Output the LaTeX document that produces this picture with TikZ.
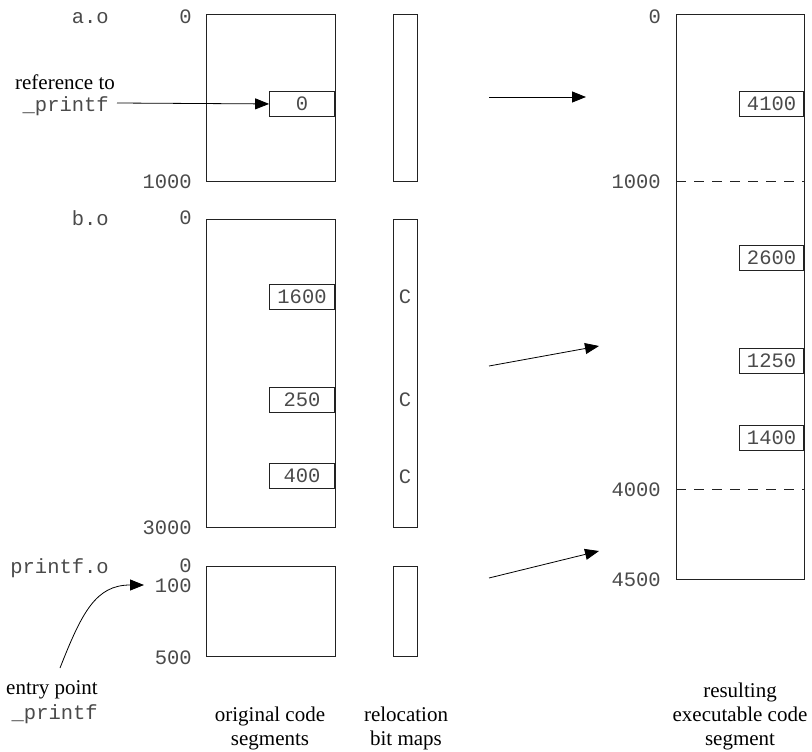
\documentclass[tikz,border=0pt]{standalone}
\usepackage{fontspec}
\setmainfont{Liberation Serif}
\setmonofont{Liberation Mono}
\usetikzlibrary{arrows.meta}
\definecolor{ink}{HTML}{222222}
\definecolor{monoink}{HTML}{4a4a4a}
\begin{document}
\begin{tikzpicture}[x=1pt,y=-1pt,
  seg/.style={draw=ink,line width=0.9pt,inner sep=0pt,anchor=north west},
  slot/.style={draw=ink,line width=0.9pt,inner sep=0pt,anchor=north east,
    minimum width=65pt,minimum height=25pt,font=\fontsize{20.5}{20.5}\selectfont\ttfamily,text=monoink},
  addr/.style={anchor=east,inner sep=0pt,font=\fontsize{20.5}{20.5}\selectfont\ttfamily,text=monoink},
  fname/.style={anchor=east,inner sep=0pt,font=\fontsize{20.5}{20.5}\selectfont\ttfamily,text=monoink},
  bit/.style={inner sep=0pt,font=\fontsize{20.5}{20.5}\selectfont\ttfamily,text=monoink},
  caption/.style={align=center,inner sep=0pt,font=\fontsize{21}{24}\selectfont},
  ptr/.style={draw=black,line width=0.8pt,-{Triangle[length=14pt,width=11pt]}},
  gap/.style={draw=ink,line width=0.9pt,dash pattern=on 10pt off 8pt}]
\useasboundingbox (0,0) rectangle (812,752);

% object file code segments
\node[seg,minimum width=129pt,minimum height=167pt] (ao) at (206,14) {};
\node[seg,minimum width=129pt,minimum height=308pt] (bo) at (206,219) {};
\node[seg,minimum width=129pt,minimum height=90pt] (po) at (206,566) {};

% relocation bit maps
\node[seg,minimum width=24pt,minimum height=167pt] (ar) at (393,14) {};
\node[seg,minimum width=24pt,minimum height=308pt] (br) at (393,219) {};
\node[seg,minimum width=24pt,minimum height=90pt] (pr) at (393,566) {};
\node[bit] (c1) at (405,297) {C};
\node[bit] (c2) at (405,400) {C};
\node[bit] (c3) at (405,477) {C};

% executable segment
\node[seg,minimum width=128pt,minimum height=565pt] (exe) at (676,14) {};
\coordinate (d1) at (676,181);
\coordinate (d2) at (676,489);
\draw[gap] (d1) -- (d1 -| exe.east);
\draw[gap] (d2) -- (d2 -| exe.east);

% relocated words
\node[slot] (sa) at (335,91) {0};
\node[slot] (sb1) at (335,284) {1600};
\node[slot] (sb2) at (335,387) {250};
\node[slot] (sb3) at (335,463) {400};
\node[slot,minimum width=64pt] (e1) at (804,91) {4100};
\node[slot,minimum width=64pt] (e2) at (804,245) {2600};
\node[slot,minimum width=64pt] (e3) at (804,348) {1250};
\node[slot,minimum width=64pt] (e4) at (804,425) {1400};

% addresses
\node[addr] (ya0) at (192,17) {0};
\node[addr] (ya1) at (192,182) {1000};
\node[addr] (yb0) at (192,218) {0};
\node[addr] (yb1) at (192,528) {3000};
\node[addr] (yp0) at (192,566) {0};
\node[addr] (yp1) at (192,586) {100};
\node[addr] (yp2) at (192,658) {500};
\node[addr] (ye0) at (661,17) {0};
\node[addr] (ye1) at (661,182) {1000};
\node[addr] (ye2) at (661,490) {4000};
\node[addr] (ye3) at (661,580) {4500};

% file names
\node[fname] (na) at (109,18) {a.o};
\node[fname] (nb) at (109,218) {b.o};
\node[fname] (np) at (109,568) {printf.o};

% annotations
\node[caption] (refto) at (65,82) {reference to};
\node[fname] (refpf) at (109,106) {\_printf};
\coordinate (refstart) at (117,103);
\draw[ptr] (refstart) -- (sa.west);

\node[caption] (entry) at (52,690) {entry point};
\node[fname] (entrypf) at (98,714) {\_printf};
\coordinate (entrystart) at (60,668);
\coordinate (entryend) at (144,585);
\draw[ptr] (entrystart) .. controls (82,612) and (96,585) .. (entryend);

% mapping arrows
\coordinate (m1a) at (489,97);  \coordinate (m1b) at (586,97);
\coordinate (m2a) at (489,366); \coordinate (m2b) at (599,346);
\coordinate (m3a) at (489,578); \coordinate (m3b) at (599,551);
\draw[ptr] (m1a) -- (m1b);
\draw[ptr] (m2a) -- (m2b);
\draw[ptr] (m3a) -- (m3b);

% column captions
\node[caption] (cap1) at (270,728) {original code\\segments};
\node[caption] (cap2) at (406,728) {relocation\\bit maps};
\node[caption] (cap3) at (740,716) {resulting\\executable code\\segment};
\end{tikzpicture}
\end{document}
